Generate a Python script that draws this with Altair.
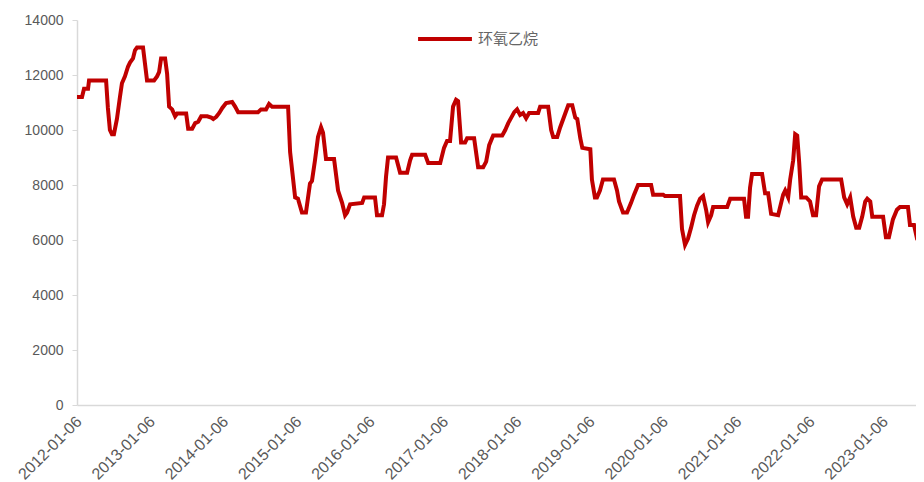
import altair as alt
import pandas as pd

dates = [
    "2012-01-06", "2012-01-31", "2012-02-10", "2012-03-01", "2012-03-06", "2012-05-30",
    "2012-06-08", "2012-06-18", "2012-06-28", "2012-07-08", "2012-07-23", "2012-08-07",
    "2012-08-17", "2012-09-01", "2012-09-16", "2012-09-26", "2012-10-11", "2012-10-21",
    "2012-10-31", "2012-11-30", "2012-12-10", "2012-12-20",
    "2013-01-24", "2013-02-08", "2013-02-18", "2013-02-28", "2013-03-20", "2013-03-30",
    "2013-04-09", "2013-04-24", "2013-05-09", "2013-05-19", "2013-07-03", "2013-07-13",
    "2013-08-02", "2013-08-17", "2013-09-01", "2013-09-16", "2013-10-16", "2013-11-05",
    "2013-11-15", "2013-11-30", "2013-12-15", "2013-12-30",
    "2014-01-18", "2014-02-17", "2014-03-04", "2014-03-19", "2014-06-26", "2014-07-11",
    "2014-08-05", "2014-08-20", "2014-09-04", "2014-11-23", "2014-12-03", "2014-12-28",
    "2015-01-11", "2015-01-31", "2015-02-20", "2015-03-12", "2015-03-22", "2015-04-06",
    "2015-04-21", "2015-05-06", "2015-05-16", "2015-05-31", "2015-07-10", "2015-07-30",
    "2015-08-19", "2015-09-03", "2015-09-13", "2015-09-28", "2015-11-27", "2015-12-07",
    "2016-01-30", "2016-02-09", "2016-03-05", "2016-03-15", "2016-03-25", "2016-04-04",
    "2016-05-14", "2016-06-03", "2016-07-08", "2016-07-23", "2016-08-02", "2016-10-06",
    "2016-10-21", "2016-12-20",
    "2017-01-08", "2017-01-23", "2017-02-07", "2017-02-22", "2017-03-09", "2017-03-19",
    "2017-04-03", "2017-04-23", "2017-05-03", "2017-06-07", "2017-06-27", "2017-07-22",
    "2017-08-06", "2017-08-21", "2017-09-10", "2017-10-25", "2017-11-09", "2017-11-24",
    "2017-12-09", "2017-12-24",
    "2018-01-07", "2018-01-22", "2018-02-06", "2018-02-21", "2018-03-08", "2018-04-22",
    "2018-05-02", "2018-06-11", "2018-06-26", "2018-07-06", "2018-07-26", "2018-08-10",
    "2018-08-30", "2018-09-19", "2018-10-09", "2018-10-24", "2018-11-03", "2018-11-18",
    "2018-11-28", "2019-01-07",
    "2019-01-15", "2019-01-30", "2019-02-09", "2019-02-24", "2019-03-11", "2019-05-05",
    "2019-05-20", "2019-05-30", "2019-06-19", "2019-07-09", "2019-07-29", "2019-08-13",
    "2019-09-02", "2019-11-06", "2019-11-16", "2020-01-05",
    "2020-01-14", "2020-03-29", "2020-04-08", "2020-04-23", "2020-05-08", "2020-05-23",
    "2020-06-07", "2020-06-22", "2020-07-07", "2020-07-22", "2020-08-06", "2020-08-16",
    "2020-08-31", "2020-09-10", "2020-11-19", "2020-12-04",
    "2021-02-11", "2021-02-21", "2021-03-03", "2021-03-13", "2021-03-23", "2021-05-12",
    "2021-05-27", "2021-06-11", "2021-06-26", "2021-07-31", "2021-08-10", "2021-08-25",
    "2021-09-04", "2021-09-19", "2021-09-29", "2021-10-14", "2021-10-24", "2021-11-03",
    "2021-11-13", "2021-11-23", "2021-12-18",
    "2022-01-06", "2022-01-21", "2022-02-05", "2022-02-20", "2022-03-07", "2022-06-10",
    "2022-06-25", "2022-07-10", "2022-07-25", "2022-08-09", "2022-08-24", "2022-09-08",
    "2022-09-23", "2022-10-08", "2022-10-18", "2022-11-02", "2022-11-12", "2023-01-05",
    "2023-01-19", "2023-02-03", "2023-02-23", "2023-03-15", "2023-03-30", "2023-05-09",
    "2023-05-19", "2023-06-08", "2023-06-23", "2023-07-28",
]

values = [
    11200, 11200, 11500, 11500, 11800, 11800,
    10800, 10000, 9850, 9850, 10400, 11200,
    11700, 11950, 12300, 12450, 12600, 12900,
    13000, 13000, 12400, 11800,
    11800, 11950, 12100, 12600, 12600, 12050,
    10850, 10750, 10500, 10600, 10600, 10050,
    10050, 10250, 10300, 10500, 10500, 10450,
    10400, 10480, 10620, 10800,
    10980, 11020, 10850, 10650, 10650, 10750,
    10750, 10950, 10850, 10850, 9200, 7550,
    7500, 7000, 7000, 8050, 8150, 8900,
    9750, 10100, 9900, 8950, 8950, 7800,
    7350, 6900, 7000, 7300, 7350, 7550,
    7550, 6900, 6900, 7300, 8300, 9000,
    9000, 8450, 8450, 8900, 9100, 9100,
    8800, 8800,
    9350, 9600, 9600, 10850, 11100, 11050,
    9550, 9550, 9700, 9700, 8650, 8650,
    8850, 9450, 9800, 9800, 10000, 10250,
    10450, 10650,
    10750, 10550, 10620, 10430, 10620, 10620,
    10850, 10850, 10000, 9750, 9750, 10100,
    10500, 10900, 10900, 10450, 10400, 9700,
    9350, 9300,
    8200, 7550, 7550, 7800, 8200, 8200,
    7800, 7400, 7000, 7000, 7350, 7650,
    8000, 8000, 7650, 7650,
    7600, 7600, 6400, 5820, 6050, 6450,
    6900, 7250, 7500, 7600, 7100, 6650,
    6900, 7200, 7200, 7500,
    7500, 6850, 6850, 7900, 8400, 8400,
    7700, 7700, 6950, 6900, 7200, 7650,
    7800, 7550, 8200, 8900, 9850, 9800,
    8800, 7550, 7550,
    7400, 6900, 6900, 7950, 8200, 8200,
    7550, 7300, 7550, 6850, 6450, 6450,
    6850, 7400, 7500, 7400, 6850, 6850,
    6100, 6100, 6750, 7100, 7200, 7200,
    6550, 6550, 6050, 6000,
]

series_name = "环氧乙烷"
y_ticks = [0, 2000, 4000, 6000, 8000, 10000, 12000, 14000]
tick_years = list(range(2012, 2024))

df = pd.DataFrame({"date": dates, "value": values, "series": series_name})

x_values = [alt.DateTime(year=y, month=1, date=6, utc=True) for y in tick_years]

chart = (
    alt.Chart(df)
    .mark_line(strokeWidth=4, clip=True)
    .encode(
        x=alt.X(
            "date:T",
            scale=alt.Scale(
                type="utc",
                domain=[
                    alt.DateTime(year=2012, month=1, date=6, utc=True),
                    alt.DateTime(year=2023, month=6, date=18, utc=True),
                ],
            ),
            axis=alt.Axis(
                values=x_values,
                format="%Y-%m-%d",
                labelAngle=-45,
                labelFont="Liberation Sans",
                labelFontSize=16,
                labelColor="#595959",
                labelPadding=8,
                labelOffset=-4,
                ticks=False,
                grid=False,
                domainColor="#d9d9d9",
                domainWidth=1.5,
                title=None,
            ),
        ),
        y=alt.Y(
            "value:Q",
            scale=alt.Scale(domain=[0, 14000], nice=False),
            axis=alt.Axis(
                values=y_ticks,
                format="d",
                labelFont="Liberation Sans",
                labelFontSize=14,
                labelColor="#595959",
                labelPadding=9,
                tickSize=5,
                tickColor="#d9d9d9",
                domainColor="#d9d9d9",
                domainWidth=1.5,
                grid=False,
                title=None,
            ),
        ),
        color=alt.Color(
            "series:N",
            scale=alt.Scale(domain=[series_name], range=["#C00000"]),
            legend=alt.Legend(
                title=None,
                orient="none",
                legendX=339,
                legendY=-10,
                symbolType="stroke",
                symbolSize=2900,
                symbolStrokeWidth=4,
                labelFont="Noto Sans CJK SC",
                labelFontSize=15,
                labelColor="#666666",
                labelOffset=4,
            ),
        ),
    )
    .properties(
        width=839,
        height=385,
        autosize=alt.AutoSizeParams(type="none"),
        padding={"left": 69, "top": 12, "right": 0, "bottom": 80},
    )
    .configure_view(stroke=None)
)

chart.save("out.html", embed_options={"renderer": "svg", "actions": False})
